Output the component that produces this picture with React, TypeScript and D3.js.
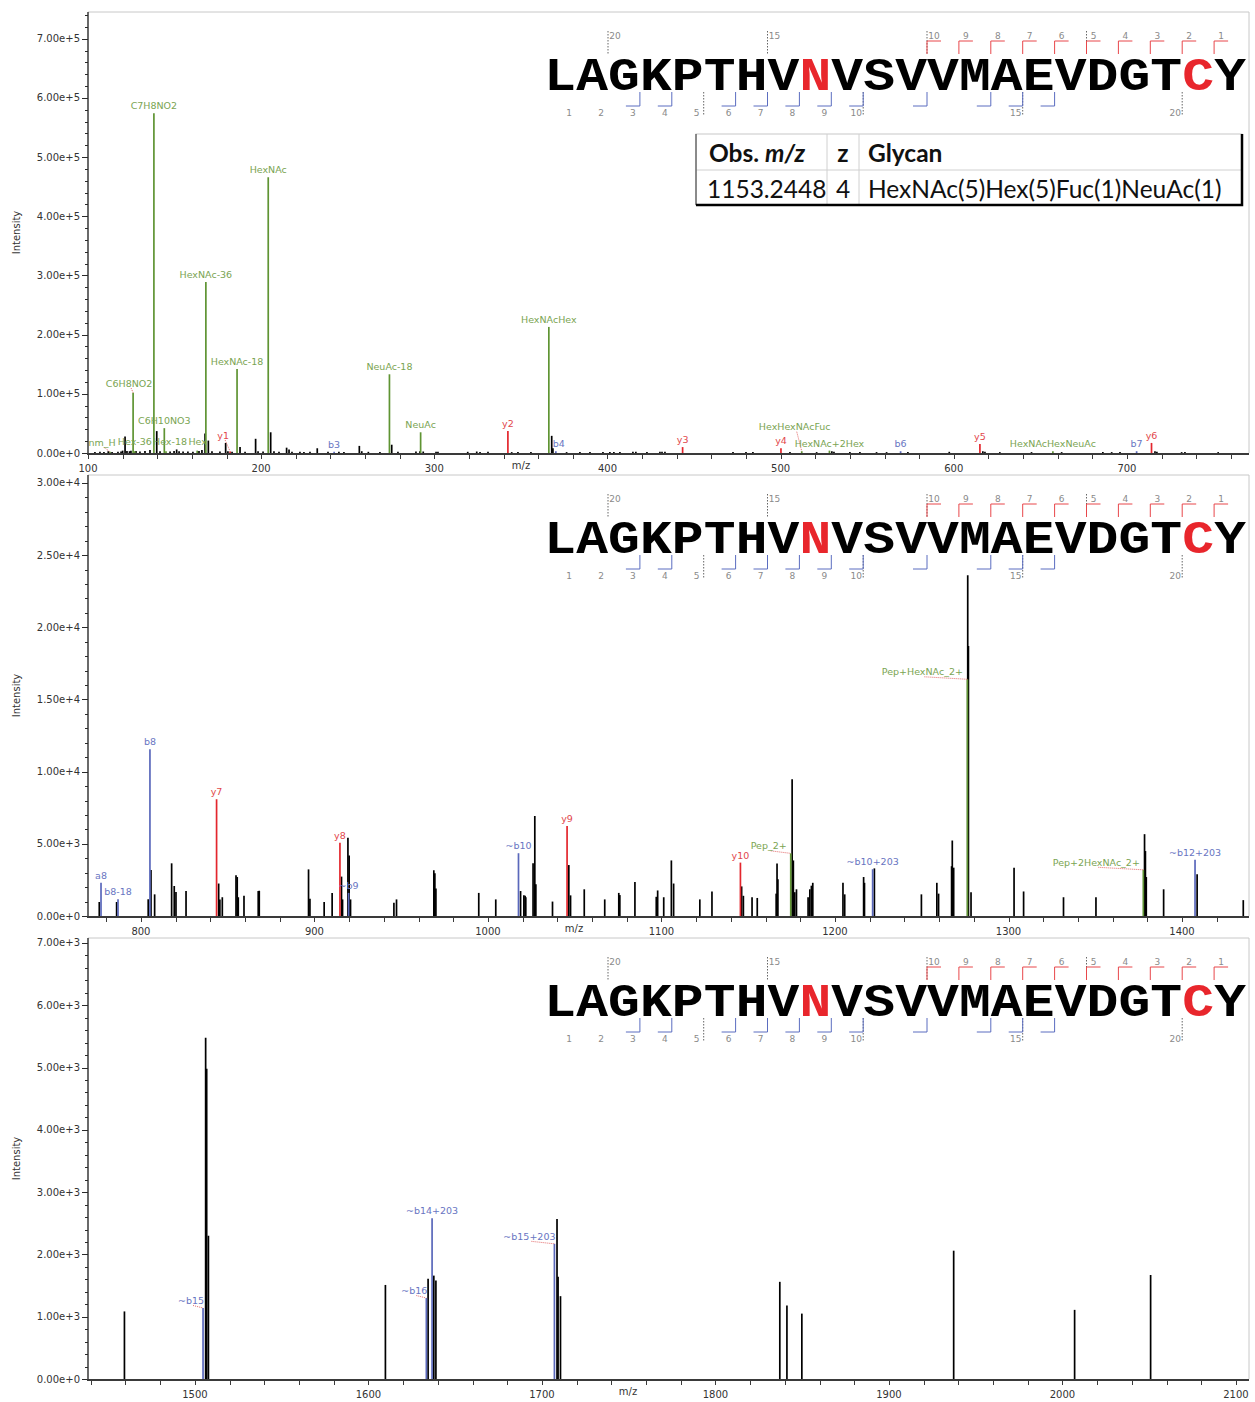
import React, { useEffect, useRef } from "react";
import * as d3 from "d3";

const W = 1255;
const H = 1402;

// peptide and its fragment coverage
const SEQUENCE = "LAGKPTHVNVSVVMAEVDGTCY";
const RED_RESIDUES = [8, 20];
const Y_IONS_FOUND = [1, 2, 3, 4, 5, 6, 7, 8, 9, 10];
const B_IONS_FOUND = [3, 4, 6, 7, 8, 9, 10, 12, 14, 15, 16];
const SITE_NUMBERS = [1, 2, 3, 4, 5, 6, 7, 8, 9, 10, 15, 20];
const DOTTED_NUMBERS = [5, 10, 15, 20];

// glycan table
const TABLE_ROW = ["1153.2448", "4", "HexNAc(5)Hex(5)Fuc(1)NeuAc(1)"];

// one panel per m/z window
const MZ_RANGES = [
  [100, 770.5],
  [769.5, 1438.6],
  [1438.4, 2107.5],
];
const INT_MAX = [7.451e5, 30554, 7080];
const INT_MAJOR = [1e5, 5e3, 1e3];
const INT_MINOR = [2e4, 1e3, 2e2];

// unannotated peaks [m/z, intensity]
const BLACK_1 = [
  [104.0, 1500], [106.9, 2000], [109.2, 1500], [111.7, 3000], [113.9, 1500],
  [117.3, 2000], [119.1, 2500], [120.0, 4000], [121.4, 2.8e4], [122.5, 3500],
  [124.0, 3000], [124.8, 4000], [127.7, 3500], [130.0, 2500], [132.9, 3500],
  [135.8, 5000], [139.7, 3.7e4], [141.6, 3000], [147.4, 2500], [149.7, 3500],
  [151.2, 6000], [152.6, 3000], [154.9, 2500], [157.7, 2500], [160.6, 2000],
  [164.1, 3500], [165.8, 5000], [167.6, 3.3e4], [169.5, 2.1e4], [171.6, 3000],
  [176.2, 2500], [179.5, 1.7e4], [180.8, 3000], [183.2, 2000], [187.8, 1.0e4],
  [190.7, 2000], [196.8, 2.4e4], [198.2, 3000], [201.1, 2500], [205.5, 3.5e4],
  [207.4, 3000], [210.3, 2000], [214.7, 9000], [216.1, 6000], [217.8, 2000],
  [222.4, 2000], [224.7, 1500], [228.2, 2000], [232.4, 8000], [238.6, 2000],
  [244.9, 2000], [247.8, 1500], [256.7, 1.2e4], [258.1, 3000], [261.9, 2000],
  [268.6, 1500], [275.4, 1.4e4], [279.0, 2000], [289.4, 2500], [291.7, 3000],
  [293.6, 2500], [301.0, 2000], [302.1, 2000], [319.3, 2000], [324.5, 2500],
  [326.4, 1500], [331.0, 2000], [344.7, 1500], [348.3, 1500], [355.8, 1500],
  [367.8, 2.9e4], [368.5, 8000], [376.4, 1500], [384.1, 1500], [389.9, 1500],
  [397.4, 1500], [401.4, 1500], [403.7, 1500], [407.2, 1500], [414.7, 2000],
  [416.4, 2000], [422.8, 1500], [430.3, 2000], [431.5, 2000], [433.2, 2000],
  [472.5, 1500], [480.0, 1500], [484.0, 1500], [505.4, 1500], [520.8, 1500],
  [529.6, 3000], [530.8, 2000], [540.0, 1500], [545.8, 1500], [555.4, 1500],
  [561.2, 1500], [573.5, 1500], [597.4, 2000], [616.8, 3000], [618.0, 2000],
  [626.6, 1500], [644.9, 1500], [662.3, 1500], [686.1, 1500], [691.2, 1500],
  [696.0, 1500], [716.2, 3000], [717.3, 2000], [731.6, 1500], [733.5, 1500],
  [752.7, 1500],
];
const BLACK_2 = [
  [776.0, 970], [786.0, 970], [804.2, 1160], [805.8, 3190], [807.9, 1500],
  [817.7, 3650], [819.2, 2080], [820.2, 1660], [826.0, 1730], [844.8, 2250],
  [845.5, 1150], [846.9, 1300], [854.8, 2820], [855.5, 2700], [856.1, 1300],
  [859.4, 1400], [867.6, 1730], [868.2, 1750], [896.6, 3230], [897.4, 1200],
  [905.6, 970], [910.2, 1600], [915.6, 2730], [916.2, 1150], [919.3, 5430],
  [920.0, 4200], [920.8, 1150], [945.8, 920], [947.3, 1150], [968.8, 3170],
  [969.4, 2970], [970.0, 1900], [994.7, 1600], [1004.5, 1150], [1018.8, 1730],
  [1020.7, 1430], [1021.4, 1400], [1021.8, 1300], [1026.0, 3650], [1027.0, 6930],
  [1027.6, 2200], [1037.2, 1000], [1046.6, 3530], [1047.6, 1430], [1055.5, 1850],
  [1067.3, 1150], [1075.4, 1600], [1076.0, 1450], [1084.7, 2360], [1097.0, 1330],
  [1097.8, 1770], [1101.3, 1300], [1105.7, 3850], [1107.0, 2250], [1122.1, 1150],
  [1129.1, 1700], [1146.2, 2050], [1147.2, 1400], [1152.2, 1300], [1155.2, 1250],
  [1166.1, 1550], [1166.6, 3640], [1167.1, 2550], [1175.3, 9470], [1176.0, 3850],
  [1176.8, 1650], [1177.8, 1850], [1184.5, 1300], [1185.5, 1850], [1186.4, 2100],
  [1187.2, 2300], [1204.6, 2300], [1205.6, 1500], [1216.5, 2700], [1217.0, 2300],
  [1222.7, 3300], [1249.8, 1500], [1258.7, 2300], [1259.7, 1550], [1267.2, 3450],
  [1267.6, 5230], [1268.4, 3350], [1276.5, 23600], [1276.9, 18700], [1278.4, 1650],
  [1303.2, 3340], [1308.7, 1700], [1331.7, 1300], [1350.4, 1300], [1378.4, 5670],
  [1378.9, 4500], [1379.4, 2700], [1389.4, 1850], [1408.7, 2900], [1435.3, 1100],
];
const BLACK_3 = [
  [1459.4, 1085], [1506.2, 5480], [1506.8, 4980], [1507.8, 2300], [1609.8, 1510],
  [1634.4, 1610], [1637.7, 1660], [1638.9, 1580], [1708.7, 2570], [1709.3, 1640],
  [1710.7, 1330], [1837.1, 1560], [1841.2, 1180], [1849.8, 1050], [1937.3, 2060],
  [2007.0, 1110], [2050.8, 1670],
];

// annotated peaks [label, m/z, intensity, kind]
const ANNOT_1 = [
  ["nm_H", 112.7, 2000, "g"],
  ["C6H8NO2", 126.05, 1.02e5, "g"],
  ["Hex-36", 127.04, 3000, "g"],
  ["C7H8NO2", 138.06, 5.74e5, "g"],
  ["C6H10NO3", 144.07, 4.2e4, "g"],
  ["Hex-18", 145.05, 3000, "g"],
  ["Hex", 163.06, 4000, "g"],
  ["HexNAc-36", 168.07, 2.89e5, "g"],
  ["y1", 182.08, 2500, "y"],
  ["HexNAc-18", 186.08, 1.42e5, "g"],
  ["HexNAc", 204.09, 4.66e5, "g"],
  ["b3", 242.15, 2000, "b"],
  ["NeuAc-18", 274.09, 1.33e5, "g"],
  ["NeuAc", 292.1, 3.5e4, "g"],
  ["y2", 342.5, 3.7e4, "y"],
  ["HexNAcHex", 366.14, 2.13e5, "g"],
  ["b4", 370.2, 3000, "b"],
  ["y3", 443.4, 1.0e4, "y"],
  ["y4", 500.2, 8000, "y"],
  ["HexHexNAcFuc", 512.2, 3000, "g"],
  ["HexNAc+2Hex", 528.2, 4000, "g"],
  ["b6", 569.3, 3000, "b"],
  ["y5", 615.1, 1.5e4, "y"],
  ["HexNAcHexNeuAc", 657.24, 3000, "g"],
  ["b7", 705.6, 3000, "b"],
  ["y6", 714.2, 1.7e4, "y"],
];
const ANNOT_2 = [
  ["a8", 777.0, 2300, "b"],
  ["b8-18", 786.8, 1160, "b"],
  ["b8", 805.2, 11550, "b"],
  ["y7", 843.6, 8090, "y"],
  ["y8", 914.7, 5080, "y"],
  ["~b9", 919.7, 1600, "b"],
  ["~b10", 1017.6, 4350, "b"],
  ["y9", 1045.6, 6240, "y"],
  ["y10", 1145.5, 3700, "y"],
  ["Pep_2+", 1174.5, 4340, "g"],
  ["~b10+203", 1221.7, 3240, "b"],
  ["Pep+HexNAc_2+", 1276.3, 16400, "g"],
  ["Pep+2HexNAc_2+", 1377.7, 3200, "g"],
  ["~b12+203", 1407.5, 3900, "b"],
];
const ANNOT_3 = [
  ["~b15", 1504.7, 1140, "b"],
  ["~b16", 1633.4, 1300, "b"],
  ["~b14+203", 1636.7, 2580, "b"],
  ["~b15+203", 1707.2, 2170, "b"],
];

const BLACK = [BLACK_1, BLACK_2, BLACK_3];
const ANNOT = [ANNOT_1, ANNOT_2, ANNOT_3];

// labels moved off their peak: [dx, dy, dotted leader]
const LABEL_NUDGE: Record<string, [number, number, boolean]> = {
  "nm_H": [-8, -2, true],
  "C6H8NO2": [-4, -2, true],
  "Hex-36": [0, -2, false],
  "Hex-18": [4, -2, false],
  "Hex": [0.5, -2, false],
  "y1": [-7, -9, true],
  "HexHexNAcFuc": [-7, -17, true],
  "b4": [3, 0, false],
  "Pep_2+": [-22, 0, true],
  "Pep+HexNAc_2+": [-45, 0, true],
  "Pep+2HexNAc_2+": [-47, 0, true],
  "~b15": [-12, 0, true],
  "~b16": [-12, 0, true],
  "~b15+203": [-25, 0, true],
};

const LINE_COLOR: Record<string, string> = { g: "#5f9433", y: "#e3262d", b: "#5a68bb" };
const TEXT_COLOR: Record<string, string> = { g: "#7aa452", y: "#e2474b", b: "#6875c2" };

const PLOT_L = 88;
const PLOT_R = 1249;
const PANEL_TOP = 12;
const PANEL_STEP = 463;
const PANEL_H = 441;
const MZ_LABEL_X = [521, 574, 628];

const CHAR_W = 31.9;
const SEQ_X0 = 544.2;

const drawSequence = (g, top) => {
  const bx = (k) => SEQ_X0 + k * CHAR_W;
  const gray = "#8a8a8a";

  // dotted guides every fifth site
  DOTTED_NUMBERS.forEach((n) => {
    g.append("line")
      .attr("x1", bx(22 - n)).attr("x2", bx(22 - n))
      .attr("y1", top + 19).attr("y2", top + 43)
      .attr("stroke", "#666").attr("stroke-dasharray", "1.5,1.5");
    g.append("line")
      .attr("x1", bx(n)).attr("x2", bx(n))
      .attr("y1", top + 80).attr("y2", top + 104)
      .attr("stroke", "#666").attr("stroke-dasharray", "1.5,1.5");
  });

  // y ions (top, red)
  Y_IONS_FOUND.forEach((n) => {
    const xb = bx(22 - n);
    g.append("path")
      .attr("d", `M${xb},${top + 42}V${top + 29}H${xb + 14}`)
      .attr("fill", "none").attr("stroke", "#e8474b").attr("stroke-width", 1);
  });
  // b ions (bottom, blue)
  B_IONS_FOUND.forEach((n) => {
    const xb = bx(n);
    g.append("path")
      .attr("d", `M${xb},${top + 80}V${top + 94}H${xb - 14}`)
      .attr("fill", "none").attr("stroke", "#5b6dc0").attr("stroke-width", 1);
  });

  SITE_NUMBERS.forEach((n) => {
    g.append("text")
      .attr("x", bx(22 - n) + 7).attr("y", top + 27)
      .attr("text-anchor", "middle").attr("font-size", 9)
      .attr("font-family", "DejaVu Sans").attr("fill", gray)
      .text(n);
    g.append("text")
      .attr("x", bx(n) - 7).attr("y", top + 104)
      .attr("text-anchor", "middle").attr("font-size", 9)
      .attr("font-family", "DejaVu Sans").attr("fill", gray)
      .text(n);
  });

  g.selectAll("text.res")
    .data(SEQUENCE.split(""))
    .join("text")
    .attr("class", "res")
    .attr("transform", (d, i) => `translate(${SEQ_X0 + (i + 0.5) * CHAR_W},${top + 77.5}) scale(1,0.88)`)
    .attr("text-anchor", "middle")
    .attr("font-family", "Liberation Mono")
    .attr("font-weight", "bold")
    .attr("font-size", 53)
    .attr("fill", (d, i) => (RED_RESIDUES.includes(i) ? "#e8262c" : "#000"))
    .text((d) => d);
};

const drawPanel = (svg, p) => {
  const top = PANEL_TOP + p * PANEL_STEP;
  const bottom = top + PANEL_H;
  const x = d3.scaleLinear().domain(MZ_RANGES[p]).range([PLOT_L, PLOT_R]);
  const y = d3.scaleLinear().domain([0, INT_MAX[p]]).range([bottom, top]);
  const g = svg.append("g");

  // frame
  g.append("path")
    .attr("d", `M${PLOT_L},${top}H${PLOT_R}V${bottom}`)
    .attr("fill", "none").attr("stroke", "#c8c8c8");

  drawSequence(g, top);

  // plain peaks
  g.selectAll("line.pk")
    .data(BLACK[p])
    .join("line")
    .attr("class", "pk")
    .attr("x1", (d) => x(d[0])).attr("x2", (d) => x(d[0]))
    .attr("y1", bottom).attr("y2", (d) => y(d[1]))
    .attr("stroke", "#000").attr("stroke-width", 1.7);

  // annotated peaks
  g.selectAll("line.an")
    .data(ANNOT[p])
    .join("line")
    .attr("class", "an")
    .attr("x1", (d) => x(d[1])).attr("x2", (d) => x(d[1]))
    .attr("y1", bottom).attr("y2", (d) => y(d[2]))
    .attr("stroke", (d) => LINE_COLOR[d[3]]).attr("stroke-width", 1.7);

  ANNOT[p].forEach(([label, mz, inten, kind]) => {
    const [dx, dy, leader] = LABEL_NUDGE[label] || [0, 0, false];
    const px = x(mz);
    const py = y(inten);
    const lx = px + dx;
    const ly = py - 4 + dy;
    if (leader) {
      g.append("line")
        .attr("x1", lx + 2).attr("y1", ly + 1.5)
        .attr("x2", px).attr("y2", py)
        .attr("stroke", "#e46a6a").attr("stroke-width", 1)
        .attr("stroke-dasharray", "1,1");
    }
    g.append("text")
      .attr("x", lx).attr("y", ly)
      .attr("text-anchor", "middle")
      .attr("font-family", "DejaVu Sans").attr("font-size", 9.5)
      .attr("fill", TEXT_COLOR[kind])
      .text(label);
  });

  // y axis
  const axisColor = "#2a2a2a";
  g.append("line")
    .attr("x1", PLOT_L).attr("x2", PLOT_L).attr("y1", top).attr("y2", bottom + 1)
    .attr("stroke", axisColor).attr("stroke-width", 1.4);
  const minor = d3.range(0, INT_MAX[p] + 1e-6, INT_MINOR[p]);
  g.selectAll("line.ymin")
    .data(minor)
    .join("line")
    .attr("class", "ymin")
    .attr("x1", PLOT_L - 3).attr("x2", PLOT_L)
    .attr("y1", (d) => Math.round(y(d)) + 0.5).attr("y2", (d) => Math.round(y(d)) + 0.5)
    .attr("stroke", axisColor);
  const major = d3.range(0, INT_MAX[p] + 1e-6, INT_MAJOR[p]);
  g.selectAll("line.ymaj")
    .data(major)
    .join("line")
    .attr("class", "ymaj")
    .attr("x1", PLOT_L - 6).attr("x2", PLOT_L)
    .attr("y1", (d) => Math.round(y(d)) + 0.5).attr("y2", (d) => Math.round(y(d)) + 0.5)
    .attr("stroke", axisColor);
  const fmt = d3.format(".2e");
  g.selectAll("text.ylab")
    .data(major)
    .join("text")
    .attr("class", "ylab")
    .attr("x", PLOT_L - 8).attr("y", (d) => y(d))
    .attr("dy", "0.35em")
    .attr("text-anchor", "end")
    .attr("font-family", "DejaVu Sans").attr("font-size", 10)
    .attr("fill", "#333")
    .text((d) => fmt(d));

  g.append("text")
    .attr("transform", `translate(20,${(top + bottom) / 2}) rotate(-90)`)
    .attr("text-anchor", "middle")
    .attr("font-family", "DejaVu Sans").attr("font-size", 10)
    .attr("fill", "#333")
    .text("Intensity");

  // x axis
  g.append("line")
    .attr("x1", PLOT_L - 1).attr("x2", PLOT_R).attr("y1", bottom + 1).attr("y2", bottom + 1)
    .attr("stroke", "#3a3a3a").attr("stroke-width", 2);
  const [m0, m1] = MZ_RANGES[p];
  const xMinor = d3.range(Math.ceil(m0 / 20) * 20, m1, 20);
  g.selectAll("line.xt")
    .data(xMinor)
    .join("line")
    .attr("class", "xt")
    .attr("x1", (d) => Math.round(x(d)) + 0.5).attr("x2", (d) => Math.round(x(d)) + 0.5)
    .attr("y1", bottom + 2).attr("y2", bottom + 6)
    .attr("stroke", "#3a3a3a");
  const xMajor = d3.range(Math.ceil(m0 / 100) * 100, m1, 100);
  g.selectAll("text.xlab")
    .data(xMajor)
    .join("text")
    .attr("class", "xlab")
    .attr("x", (d) => x(d)).attr("y", bottom + 19)
    .attr("text-anchor", "middle")
    .attr("font-family", "DejaVu Sans").attr("font-size", 10)
    .attr("fill", "#333")
    .text((d) => d);
  g.append("text")
    .attr("x", MZ_LABEL_X[p]).attr("y", bottom + 16)
    .attr("text-anchor", "middle")
    .attr("font-family", "DejaVu Sans").attr("font-size", 10)
    .attr("fill", "#333")
    .text("m/z");
};

const drawTable = (svg) => {
  const g = svg.append("g");
  const x0 = 696, x1 = 827, x2 = 859, x3 = 1242;
  const y0 = 134, y1 = 170, y2 = 205;
  g.append("rect")
    .attr("x", x0).attr("y", y0).attr("width", x3 - x0).attr("height", y2 - y0)
    .attr("fill", "#fff").attr("stroke", "#c8c8c8");
  g.append("line").attr("x1", x0).attr("x2", x3).attr("y1", y1).attr("y2", y1).attr("stroke", "#d0d0d0");
  [x1, x2].forEach((cx) =>
    g.append("line").attr("x1", cx).attr("x2", cx).attr("y1", y0).attr("y2", y2).attr("stroke", "#d0d0d0")
  );
  g.append("line").attr("x1", x0).attr("x2", x0).attr("y1", y0).attr("y2", y2).attr("stroke", "#333");
  g.append("path")
    .attr("d", `M${x3},${y0}V${y2}H${x0}`)
    .attr("fill", "none").attr("stroke", "#000").attr("stroke-width", 2.5);

  const font = "Lato";
  const fs = 24.5;
  const hdr = g.append("text")
    .attr("x", x0 + 13).attr("y", 162)
    .attr("font-family", font).attr("font-size", fs).attr("font-weight", "bold")
    .attr("fill", "#111");
  hdr.append("tspan").text("Obs. ");
  hdr.append("tspan").attr("font-style", "italic").text("m/z");
  g.append("text")
    .attr("x", (x1 + x2) / 2).attr("y", 162)
    .attr("text-anchor", "middle")
    .attr("font-family", font).attr("font-size", fs).attr("font-weight", "bold")
    .attr("fill", "#111").text("z");
  g.append("text")
    .attr("x", x2 + 9).attr("y", 162)
    .attr("font-family", font).attr("font-size", fs).attr("font-weight", "bold")
    .attr("fill", "#111").text("Glycan");

  g.append("text")
    .attr("x", x0 + 11).attr("y", 198)
    .attr("font-family", font).attr("font-size", fs)
    .attr("fill", "#111").text(TABLE_ROW[0]);
  g.append("text")
    .attr("x", (x1 + x2) / 2).attr("y", 198)
    .attr("text-anchor", "middle")
    .attr("font-family", font).attr("font-size", fs)
    .attr("fill", "#111").text(TABLE_ROW[1]);
  g.append("text")
    .attr("x", x2 + 9).attr("y", 198)
    .attr("font-family", font).attr("font-size", fs)
    .attr("fill", "#111").text(TABLE_ROW[2]);
};

const App = () => {
  const svgRef = useRef<SVGSVGElement>(null);

  useEffect(() => {
    const svg = d3.select(svgRef.current);
    svg.selectAll("*").remove();
    for (let p = 0; p < 3; p++) drawPanel(svg, p);
    drawTable(svg);
  }, []);

  return (
    <svg
      ref={svgRef}
      width={W}
      height={H}
      style={{ position: "absolute", left: 0, top: 0, backgroundColor: "#fff" }}
    ></svg>
  );
};

export default App;
